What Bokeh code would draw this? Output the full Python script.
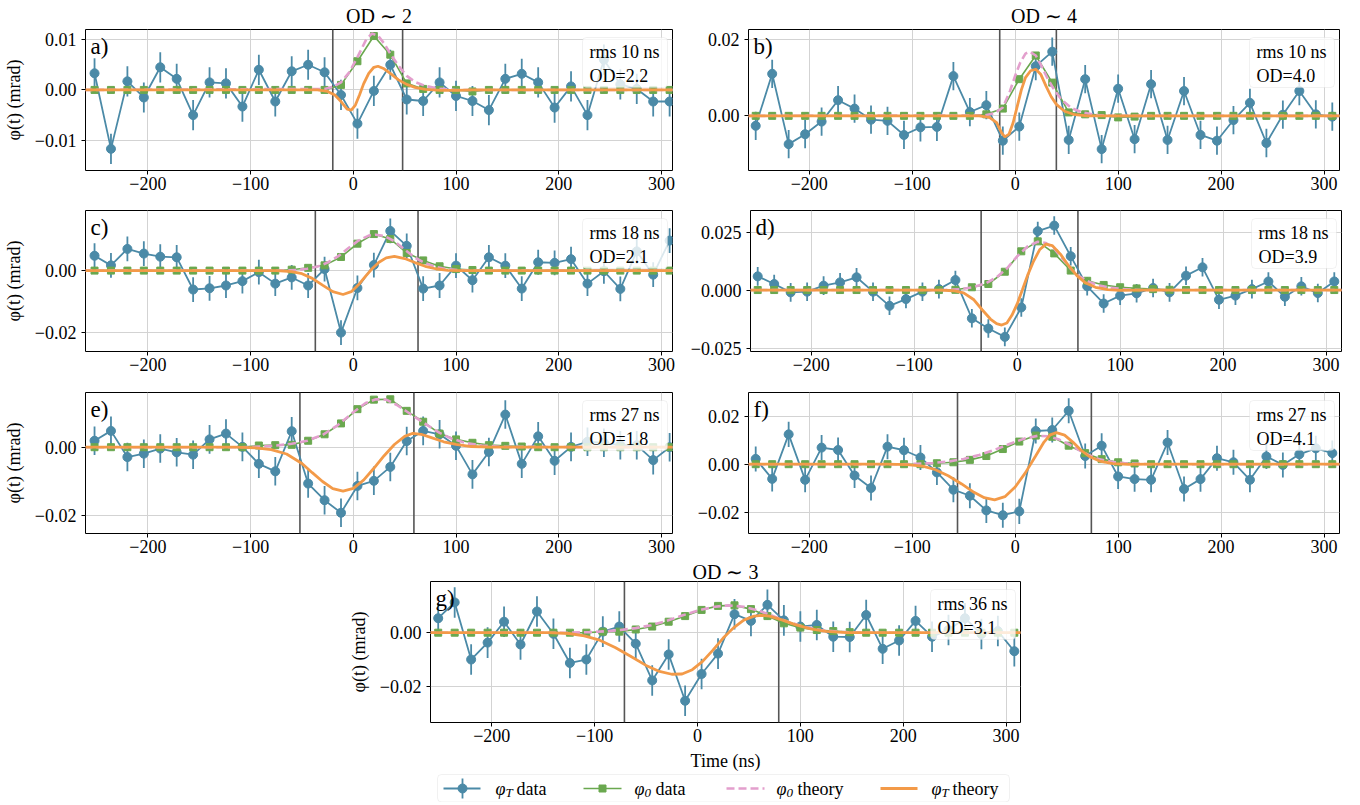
from bokeh.plotting import figure
from bokeh.models import (Range1d, FixedTicker, Span, BoxAnnotation, Label,
                          ColumnDataSource, Spacer, CustomJSTickFormatter)
from bokeh.layouts import column, row
from bokeh.embed import file_html
from bokeh.resources import INLINE
from bokeh.core.properties import value

# ---------------- data ----------------
TIME = [-252, -236, -220, -204, -188, -172, -156, -140, -124, -108, -92, -76,
        -60, -44, -28, -12, 4, 20, 36, 52, 68, 84, 100, 116,
        132, 148, 164, 180, 196, 212, 228, 244, 260, 276, 292, 308]
XTICKS = [-200, -100, 0, 100, 200, 300]

A_PHI_T = [0.0033, -0.0117, 0.0017, -0.0015, 0.0045, 0.0022, -0.005, 0.0015, 0.0013, -0.0033, 0.004, -0.0023,
           0.0037, 0.005, 0.0035, -0.001, -0.0067, -0.0002, 0.005, -0.0019, -0.0022, 0.0015, -0.0012, -0.0022,
           -0.004, 0.0022, 0.0032, 0.0015, -0.0035, 0.0007, -0.005, 0.006, 0.0011, 0.0002, -0.0023, -0.0023]
A_PHI_0 = [0, 0, 0, 0, 0, 0, 0, 0, 0, 0, 0, 0,
           0, 0, 0, 0.001, 0.0057, 0.0107, 0.007, 0.0013, 0.0002, 0, 0, -0.0003,
           0, 0, 0, 0, 0, 0, 0, 0, 0, 0, 0, 0]
A_ERR = 0.003
A_TH0_X = [-262, -28, -20, -12, -4, 4, 12, 18, 24, 30, 36, 44, 52, 60, 70, 85, 100, 320]
A_TH0 = [0, 0.0002, 0.0006, 0.0015, 0.0035, 0.0065, 0.0098, 0.0112, 0.0108, 0.0092, 0.0072, 0.0048,
         0.0028, 0.0016, 0.0008, 0.0002, 0, 0]
A_THT_X = [-262, -35, -25, -18, -12, -6, -2, 2, 6, 10, 15, 20, 24, 30, 36, 44, 52, 60, 70, 85, 100, 115, 320]
A_THT = [0, 0, -0.0003, -0.001, -0.0023, -0.0038, -0.004, -0.003, -0.001, 0.0012, 0.0033, 0.0045, 0.0047,
         0.0042, 0.0033, 0.002, 0.0011, 0.0005, 0.0001, -0.0001, -0.0001, 0, 0]
A_WIN = [-20, 48]

B_PHI_T = [-0.0026, 0.011, -0.0074, -0.0048, -0.0015, 0.0041, 0.0019, -0.001, -0.0013, -0.005, -0.003, -0.0029,
           0.0104, 0.001, 0.0028, -0.0065, -0.0028, 0.013, 0.0168, -0.0063, 0.0096, -0.0087, 0.0071, -0.0061,
           0.0083, -0.0063, 0.0065, -0.005, -0.0065, -0.0011, 0.0034, -0.0071, 0.0003, 0.0065, 0.0004, -0.0002]
B_PHI_0 = [0, 0, 0, 0, 0, 0, 0, 0, 0, 0, 0, 0,
           0, 0, 0.0004, 0.0019, 0.0096, 0.0158, 0.0087, 0.0009, 0.0004, 0.0002, -0.0004, -0.0002,
           0, 0, 0, 0, 0, 0, 0, 0, 0, 0, 0, 0]
B_ERR = 0.0037
B_TH0_X = [-262, -30, -20, -12, -5, 0, 5, 10, 14, 20, 26, 32, 38, 45, 55, 65, 80, 95, 320]
B_TH0 = [0, 0.0001, 0.0007, 0.0022, 0.0065, 0.0105, 0.014, 0.0163, 0.0168, 0.0158, 0.0128, 0.0095,
         0.0068, 0.0042, 0.002, 0.0009, 0.0002, 0, 0]
B_THT_X = [-262, -35, -25, -18, -13, -10, -6, -2, 2, 6, 10, 15, 20, 25, 30, 35, 40, 48, 58, 70, 320]
B_THT = [0, 0, -0.0004, -0.0018, -0.0045, -0.0055, -0.0048, -0.0018, 0.0025, 0.0068, 0.01, 0.0118, 0.0122,
         0.0108, 0.0078, 0.005, 0.003, 0.0012, 0.0003, 0, 0]
B_WIN = [-15, 40]

C_PHI_T = [0.0048, 0.0017, 0.007, 0.0055, 0.0045, 0.0043, -0.0061, -0.0057, -0.0048, -0.0034, -0.0005, -0.0042,
           -0.0022, -0.0048, 0.0005, -0.02, -0.0056, 0.0018, 0.0128, 0.008, -0.0058, -0.0048, 0.0016, -0.0031,
           0.0043, 0.0016, -0.0058, 0.0027, 0.0025, 0.0037, -0.0042, -0.0002, -0.0059, 0.0062, -0.0013, 0.0097]
C_PHI_0 = [0, 0, 0, 0, 0, 0, 0, 0, 0, 0, 0, 0,
           0.0003, 0.0009, 0.0017, 0.0044, 0.0087, 0.0118, 0.0102, 0.0057, 0.0033, 0.0014, 0.0005, 0.0002,
           0, 0, 0, 0, 0, 0, 0, 0, 0, 0, 0, 0]
C_ERR = 0.004
C_TH0_X = [-262, -70, -55, -45, -35, -25, -15, -5, 5, 15, 22, 30, 40, 50, 60, 70, 80, 90, 105, 120, 320]
C_TH0 = [0, 0, 0.0002, 0.0006, 0.0013, 0.0026, 0.0046, 0.0072, 0.0097, 0.0113, 0.0116, 0.0112, 0.0095,
         0.0068, 0.0042, 0.0024, 0.0012, 0.0005, 0.0001, 0, 0]
C_THT_X = [-262, -75, -60, -50, -40, -30, -20, -10, -2, 6, 12, 18, 25, 32, 40, 50, 60, 70, 80, 92, 105, 320]
C_THT = [0, 0, -0.0003, -0.001, -0.0025, -0.0047, -0.0068, -0.0077, -0.0068, -0.0042, -0.0018, 0.0005,
         0.0027, 0.0041, 0.0046, 0.0039, 0.0026, 0.0014, 0.0006, 0.0001, 0, 0]
C_WIN = [-37, 63]

D_PHI_T = [0.0059, 0.0026, -0.001, -0.0007, 0.0019, 0.0033, 0.0055, -0.0007, -0.0068, -0.0039, -0.0007, 0.0004,
           0.0043, -0.0122, -0.0166, -0.0202, -0.0075, 0.0254, 0.0278, 0.0146, 0.0016, -0.0058, -0.0024, -0.0014,
           0.0009, -0.001, 0.0062, 0.0098, -0.0042, -0.0024, 0.0004, 0.0037, -0.0029, 0.0016, -0.0013, 0.0037]
D_PHI_0 = [0, 0, 0, 0, 0, 0, 0, 0, 0, 0, 0, 0,
           0.0001, 0.0012, 0.0026, 0.0079, 0.0167, 0.021, 0.0158, 0.0084, 0.004, 0.0022, 0.0012, 0.0007,
           0.0004, 0.0001, 0, 0, 0, 0, 0, 0, 0, 0, 0, 0]
D_ERR = 0.004
D_TH0_X = [-262, -70, -55, -44, -30, -20, -10, 0, 10, 20, 28, 36, 44, 52, 60, 70, 80, 90, 105, 120, 320]
D_TH0 = [0, 0, 0.0004, 0.0011, 0.003, 0.0055, 0.0093, 0.0145, 0.0188, 0.0208, 0.0203, 0.0178, 0.0135,
         0.0092, 0.006, 0.0035, 0.0019, 0.001, 0.0003, 0, 0]
D_THT_X = [-262, -75, -62, -52, -42, -34, -26, -20, -15, -10, -5, 0, 5, 10, 16, 22, 28, 34, 42, 50, 58, 66,
           76, 88, 100, 120, 320]
D_THT = [0, 0, -0.0003, -0.0012, -0.0042, -0.0085, -0.0125, -0.0145, -0.0151, -0.0142, -0.0108, -0.006, 0.0,
         0.0062, 0.0125, 0.0175, 0.0198, 0.0192, 0.0155, 0.0105, 0.0062, 0.0032, 0.0012, 0.0002, -0.0001, 0, 0]
D_WIN = [-35, 59]

E_PHI_T = [0.0019, 0.0048, -0.0029, -0.0019, -0.0004, -0.0015, -0.0022, 0.0023, 0.004, 0.0001, -0.0049, -0.0071,
           0.0047, -0.0107, -0.0156, -0.0193, -0.0114, -0.0099, -0.0058, 0.0018, 0.0048, 0.0038, 0.0004, -0.008,
           -0.0014, 0.0096, -0.0049, 0.0032, -0.004, 0.0001, 0.0016, 0.0013, 0.0006, 0.0006, -0.0038, 0.0]
E_PHI_0 = [0, 0, 0, 0, 0, 0, 0, 0, 0, 0, 0.0005, 0.0006,
           0.0007, 0.0019, 0.0038, 0.007, 0.0112, 0.014, 0.0141, 0.0107, 0.0075, 0.004, 0.0023, 0.0013,
           0.0006, 0.0004, 0.0002, 0, 0, 0, 0, 0, 0, 0, 0, 0]
E_ERR = 0.0042
E_TH0_X = [-262, -110, -90, -75, -60, -45, -30, -15, 0, 12, 22, 32, 42, 52, 62, 72, 84, 96, 110, 125, 145, 320]
E_TH0 = [0, 0, 0.0002, 0.0005, 0.001, 0.0019, 0.0036, 0.0065, 0.0103, 0.013, 0.0141, 0.014, 0.0125, 0.0105,
         0.0085, 0.0065, 0.0042, 0.0025, 0.0012, 0.0005, 0.0001, 0]
E_THT_X = [-262, -115, -95, -80, -65, -50, -40, -30, -20, -10, 0, 10, 20, 30, 40, 50, 58, 66, 76, 88, 100,
           115, 135, 320]
E_THT = [0, 0, -0.0002, -0.0007, -0.002, -0.0048, -0.0075, -0.0101, -0.0122, -0.0129, -0.0121, -0.0097,
         -0.0062, -0.0025, 0.0008, 0.0032, 0.0041, 0.0038, 0.0028, 0.0016, 0.0008, 0.0002, 0, 0]
E_WIN = [-52, 59]

F_PHI_T = [0.0022, -0.0061, 0.0124, -0.0065, 0.0069, 0.0059, -0.0047, -0.0099, 0.0073, 0.0058, 0.0028, -0.0034,
           -0.0106, -0.0131, -0.0192, -0.0212, -0.0196, 0.0138, 0.0142, 0.0222, 0.0034, 0.0077, -0.0051, -0.0062,
           -0.0065, 0.009, -0.0103, -0.0062, 0.0025, 0.0008, -0.0065, 0.0032, -0.0003, 0.0041, 0.0066, 0.0046]
F_PHI_0 = [0, 0, 0, 0, 0, 0, 0, 0, 0, 0, 0, 0.0004,
           0.0008, 0.0018, 0.0034, 0.0063, 0.0094, 0.0119, 0.0114, 0.0077, 0.0046, 0.0021, 0.0008, 0.0003,
           0, 0, 0, 0, 0, 0, 0, 0, 0, 0, 0, 0]
F_ERR = 0.0052
F_TH0_X = [-262, -110, -95, -80, -65, -50, -35, -20, -5, 10, 22, 32, 42, 52, 62, 72, 82, 95, 110, 130, 320]
F_TH0 = [0, 0, 0.0002, 0.0005, 0.0011, 0.0022, 0.0038, 0.006, 0.0085, 0.0108, 0.0118, 0.0116, 0.0104,
         0.0083, 0.0059, 0.0037, 0.002, 0.0009, 0.0003, 0, 0]
F_THT_X = [-262, -125, -105, -90, -78, -65, -52, -40, -30, -20, -10, 0, 10, 20, 28, 34, 40, 48, 56, 64, 72,
           82, 95, 110, 130, 320]
F_THT = [0, 0, -0.0002, -0.0008, -0.0022, -0.0048, -0.0082, -0.0117, -0.0139, -0.0148, -0.0135, -0.0095,
         -0.0035, 0.0035, 0.0092, 0.0122, 0.0131, 0.0121, 0.0092, 0.0058, 0.0032, 0.0013, 0.0002, -0.0001, 0, 0]
F_WIN = [-56, 74]

G_PHI_T = [0.0054, 0.0113, -0.01, -0.0037, 0.0041, -0.0044, 0.0079, -0.0004, -0.0113, -0.01, 0.0004, 0.0023,
           -0.0041, -0.0178, -0.0081, -0.0254, -0.0154, -0.0078, 0.0069, 0.0044, 0.0104, 0.0046, 0.0023, 0.0029,
           -0.0015, -0.0016, 0.0066, -0.006, -0.0029, 0.0044, -0.0015, 0.001, 0.0054, -0.0005, 0.0006, -0.0069]
G_PHI_0 = [0, 0, 0, 0, 0, 0, 0, 0, 0, 0, 0.0004, 0.0004,
           0.0012, 0.0023, 0.0041, 0.0062, 0.0085, 0.01, 0.0102, 0.0088, 0.0062, 0.0035, 0.0019, 0.001,
           0.0006, 0.0002, 0, 0, 0, 0, 0, 0, 0, 0, 0, 0]
G_ERR = 0.0057
G_TH0_X = [-262, -125, -105, -90, -75, -60, -45, -30, -15, 0, 15, 30, 45, 60, 75, 90, 105, 120, 140, 160, 320]
G_TH0 = [0, 0, 0.0002, 0.0005, 0.001, 0.0017, 0.0028, 0.0044, 0.0064, 0.0082, 0.0096, 0.0102, 0.0097,
         0.0082, 0.006, 0.0038, 0.0021, 0.001, 0.0003, 0, 0]
G_THT_X = [-262, -145, -125, -110, -95, -80, -65, -50, -38, -25, -15, -5, 5, 15, 25, 35, 45, 55, 62, 70, 82,
           95, 110, 125, 145, 320]
G_THT = [0, 0, -0.0003, -0.0012, -0.0028, -0.0055, -0.0088, -0.0122, -0.0143, -0.0155, -0.0154, -0.0138,
         -0.0107, -0.0065, -0.002, 0.0018, 0.0047, 0.0062, 0.0065, 0.0062, 0.0048, 0.003, 0.0014, 0.0005, 0, 0]
G_WIN = [-71, 79]

PANEL_TAGS = ["a)", "b)", "c)", "d)", "e)", "f)", "g)"]
RMS_TEXT = ["rms 10 ns", "rms 10 ns", "rms 18 ns", "rms 18 ns", "rms 27 ns", "rms 27 ns", "rms 36 ns"]
OD_TEXT = ["OD=2.2", "OD=4.0", "OD=2.1", "OD=3.9", "OD=1.8", "OD=4.1", "OD=3.1"]
TITLES = {"a": "OD \u223c 2", "b": "OD \u223c 4", "g": "OD \u223c 3"}
Y_TICKS = {"a": [-0.01, 0, 0.01], "b": [0, 0.02], "c": [-0.02, 0], "d": [-0.025, 0, 0.025],
           "e": [-0.02, 0], "f": [-0.02, 0, 0.02], "g": [-0.02, 0]}
Y_DEC = {"a": 2, "b": 2, "c": 2, "d": 3, "e": 2, "f": 2, "g": 2}
Y_LIM = {"a": (-0.016, 0.012), "b": (-0.0143, 0.0226), "c": (-0.0261, 0.0194), "d": (-0.0265, 0.0343),
         "e": (-0.0254, 0.0161), "f": (-0.0288, 0.0298), "g": (-0.0335, 0.0191)}
YLABEL = "\u03c6(t) (mrad)"
XLABEL = "Time (ns)"
LEGEND_SUBS = ["T", "0", "0", "T"]
LEGEND_WORDS = ["data", "data", "theory", "theory"]

# ---------------- style ----------------
BLUE = "#4b8aa7"
GREEN = "#6aa84f"
PINK = "#e39fcd"
ORANGE = "#f39a48"
FONT = "Liberation Serif"
FH = 141


def style_axes(p, yticks, dec):
    p.xaxis.ticker = FixedTicker(ticks=XTICKS)
    p.xaxis.formatter = CustomJSTickFormatter(
        code="return tick < 0 ? '\\u2212' + Math.abs(tick) : String(tick);")
    p.yaxis.ticker = FixedTicker(ticks=yticks)
    p.yaxis.formatter = CustomJSTickFormatter(
        code="return (tick < 0 ? '\\u2212' : '') + Math.abs(tick).toFixed(%d);" % dec)
    for ax in p.axis:
        ax.axis_line_color = None
        ax.major_tick_line_color = "black"
        ax.major_tick_out = 4
        ax.major_tick_in = 0
        ax.minor_tick_line_color = None
        ax.major_label_text_font = FONT
        ax.major_label_text_font_size = "18px"
        ax.major_label_text_color = "black"
        ax.axis_label_text_font = FONT
        ax.axis_label_text_font_size = "18px"
        ax.axis_label_text_font_style = "normal"
        ax.axis_label_text_color = "black"
    p.xaxis.major_label_standoff = 2
    p.yaxis.major_label_standoff = 5
    p.grid.grid_line_color = "#d3d3d3"
    p.grid.grid_line_width = 1
    p.outline_line_color = "black"
    p.outline_line_width = 1


def make_panel(key, idx, phiT, phi0, err, th0x, th0, thtx, tht, win, xr, fw, left, right, top, bottom,
               ylabel=True, xlabel=False, title_standoff=5):
    yr = Y_LIM[key]
    title = TITLES.get(key)
    p = figure(frame_width=fw, frame_height=FH, x_range=Range1d(*xr), y_range=Range1d(*yr),
               output_backend="svg", toolbar_location=None, title=title,
               min_border_left=left, min_border_right=right, min_border_top=top, min_border_bottom=bottom,
               background_fill_color="white", border_fill_color="white")
    if title:
        p.title.align = "center"
        p.title.text_font = FONT
        p.title.text_font_size = "20px"
        p.title.text_font_style = "normal"
        p.title.text_color = "black"
        p.title.standoff = title_standoff
    style_axes(p, Y_TICKS[key], Y_DEC[key])
    if ylabel:
        p.yaxis.axis_label = YLABEL
        p.yaxis.axis_label_standoff = 8
    if xlabel:
        p.xaxis.axis_label = XLABEL
        p.xaxis.axis_label_standoff = 6

    for w in win:
        p.add_layout(Span(location=w, dimension="height", line_color="#555555", line_width=1.6,
                          level="underlay"))

    src = ColumnDataSource(dict(t=TIME, y=phiT,
                                lo=[v - err for v in phiT], hi=[v + err for v in phiT]))
    p.segment("t", "lo", "t", "hi", source=src, line_color=BLUE, line_width=1.8)
    p.line("t", "y", source=src, line_color=BLUE, line_width=1.8)
    p.scatter("t", "y", source=src, marker="circle", size=9, fill_color=BLUE, line_color=BLUE)

    p.line(TIME, phi0, line_color=GREEN, line_width=1.6)
    p.scatter(TIME, phi0, marker="square", size=7, fill_color=GREEN, line_color=GREEN)
    p.line(th0x, th0, line_color=PINK, line_width=2.6, line_dash="8 4")
    p.line(thtx, tht, line_color=ORANGE, line_width=2.8)

    # annotation box (positions from pixel offsets)
    x0, x1 = xr
    y0, y1 = yr
    dx = (x1 - x0) / fw
    dy = (y1 - y0) / FH
    bx1 = x1 - 5 * dx
    bx0 = bx1 - 85 * dx
    by1 = y1 - 8 * dy
    by0 = by1 - 50 * dy
    p.add_layout(BoxAnnotation(left=bx0, right=bx1, bottom=by0, top=by1, fill_color="white",
                               fill_alpha=0.8, line_color="#d0d0d0", line_width=1, border_radius=4))
    p.add_layout(Label(x=bx0 + 7 * dx, y=by1 - 14 * dy, text=RMS_TEXT[idx], text_baseline="middle",
                       text_font=FONT, text_font_size="18px", text_color="black"))
    p.add_layout(Label(x=bx0 + 7 * dx, y=by1 - 38 * dy, text=OD_TEXT[idx], text_baseline="middle",
                       text_font=FONT, text_font_size="18px", text_color="black"))
    p.add_layout(Label(x=x0 + 5 * dx, y=y1 - 4 * dy, text=PANEL_TAGS[idx], text_baseline="top",
                       text_font=FONT, text_font_size="23px", text_color="black"))
    return p


XR_L = (-260.8, 310.8)
XR_R = (-259.0, 315.0)
XR_G = (-259.5, 314.0)

pa = make_panel("a", 0, A_PHI_T, A_PHI_0, A_ERR, A_TH0_X, A_TH0, A_THT_X, A_THT, A_WIN,
                XR_L, 587, 84, 15, 28, 27)
pb = make_panel("b", 1, B_PHI_T, B_PHI_0, B_ERR, B_TH0_X, B_TH0, B_THT_X, B_THT, B_WIN,
                XR_R, 591, 61, 10, 28, 27, ylabel=False)
pc = make_panel("c", 2, C_PHI_T, C_PHI_0, C_ERR, C_TH0_X, C_TH0, C_THT_X, C_THT, C_WIN,
                XR_L, 587, 84, 15, 13, 27)
pd_ = make_panel("d", 3, D_PHI_T, D_PHI_0, D_ERR, D_TH0_X, D_TH0, D_THT_X, D_THT, D_WIN,
                 XR_R, 591, 61, 10, 13, 27, ylabel=False)
pe = make_panel("e", 4, E_PHI_T, E_PHI_0, E_ERR, E_TH0_X, E_TH0, E_THT_X, E_THT, E_WIN,
                XR_L, 587, 84, 15, 14, 27)
pf = make_panel("f", 5, F_PHI_T, F_PHI_0, F_ERR, F_TH0_X, F_TH0, F_THT_X, F_THT, F_WIN,
                XR_R, 591, 61, 10, 14, 27, ylabel=False)
pg = make_panel("g", 6, G_PHI_T, G_PHI_0, G_ERR, G_TH0_X, G_TH0, G_THT_X, G_THT, G_WIN,
                XR_G, 590, 84, 329, 20, 48, xlabel=True, title_standoff=-3)

# ---------------- legend (manual) ----------------
LW = 1348
LH = 29
leg = figure(width=LW, height=LH, x_range=Range1d(0, LW), y_range=Range1d(0, LH),
             x_axis_location=None, y_axis_location=None, toolbar_location=None,
             output_backend="svg", min_border=0, background_fill_color="white",
             border_fill_color="white")
leg.grid.visible = False
leg.outline_line_color = None
leg.add_layout(BoxAnnotation(left=437, right=1009, bottom=0.5, top=28, fill_color="white",
                             fill_alpha=1.0, line_color="#d0d0d0", line_width=1, border_radius=4,
                             level="underlay"))
yc = 14
leg.segment([462], [4], [462], [24], line_color=BLUE, line_width=1.8)
leg.line([443, 480], [yc, yc], line_color=BLUE, line_width=1.8)
leg.scatter([462], [yc], marker="circle", size=9, fill_color=BLUE, line_color=BLUE)
leg.line([583, 621], [yc, yc], line_color=GREEN, line_width=1.6)
leg.scatter([602], [yc], marker="square", size=7, fill_color=GREEN, line_color=GREEN)
leg.line([726, 764], [yc, yc], line_color=PINK, line_width=2.6, line_dash="8 4")
leg.line([880, 917], [yc, yc], line_color=ORANGE, line_width=2.8)

sym_x = [495, 634, 776, 931]
leg.text(x=sym_x, y=[yc] * 4, text=["\u03c6"] * 4, text_font=value(FONT),
         text_font_size=value("18px"), text_font_style="italic", text_baseline="middle",
         text_color="black")
leg.text(x=[v + 10 for v in sym_x], y=[yc - 4] * 4, text=LEGEND_SUBS, text_font=value(FONT),
         text_font_size=value("13px"), text_font_style="italic", text_baseline="middle",
         text_color="black")
leg.text(x=[v + 21 for v in sym_x], y=[yc] * 4, text=LEGEND_WORDS, text_font=value(FONT),
         text_font_size=value("18px"), text_baseline="middle", text_color="black")

layout = column(row(pa, pb), row(pc, pd_), row(pe, pf), row(Spacer(width=345, height=10), pg), leg)

open("out.html", "w").write(file_html(layout, INLINE))
